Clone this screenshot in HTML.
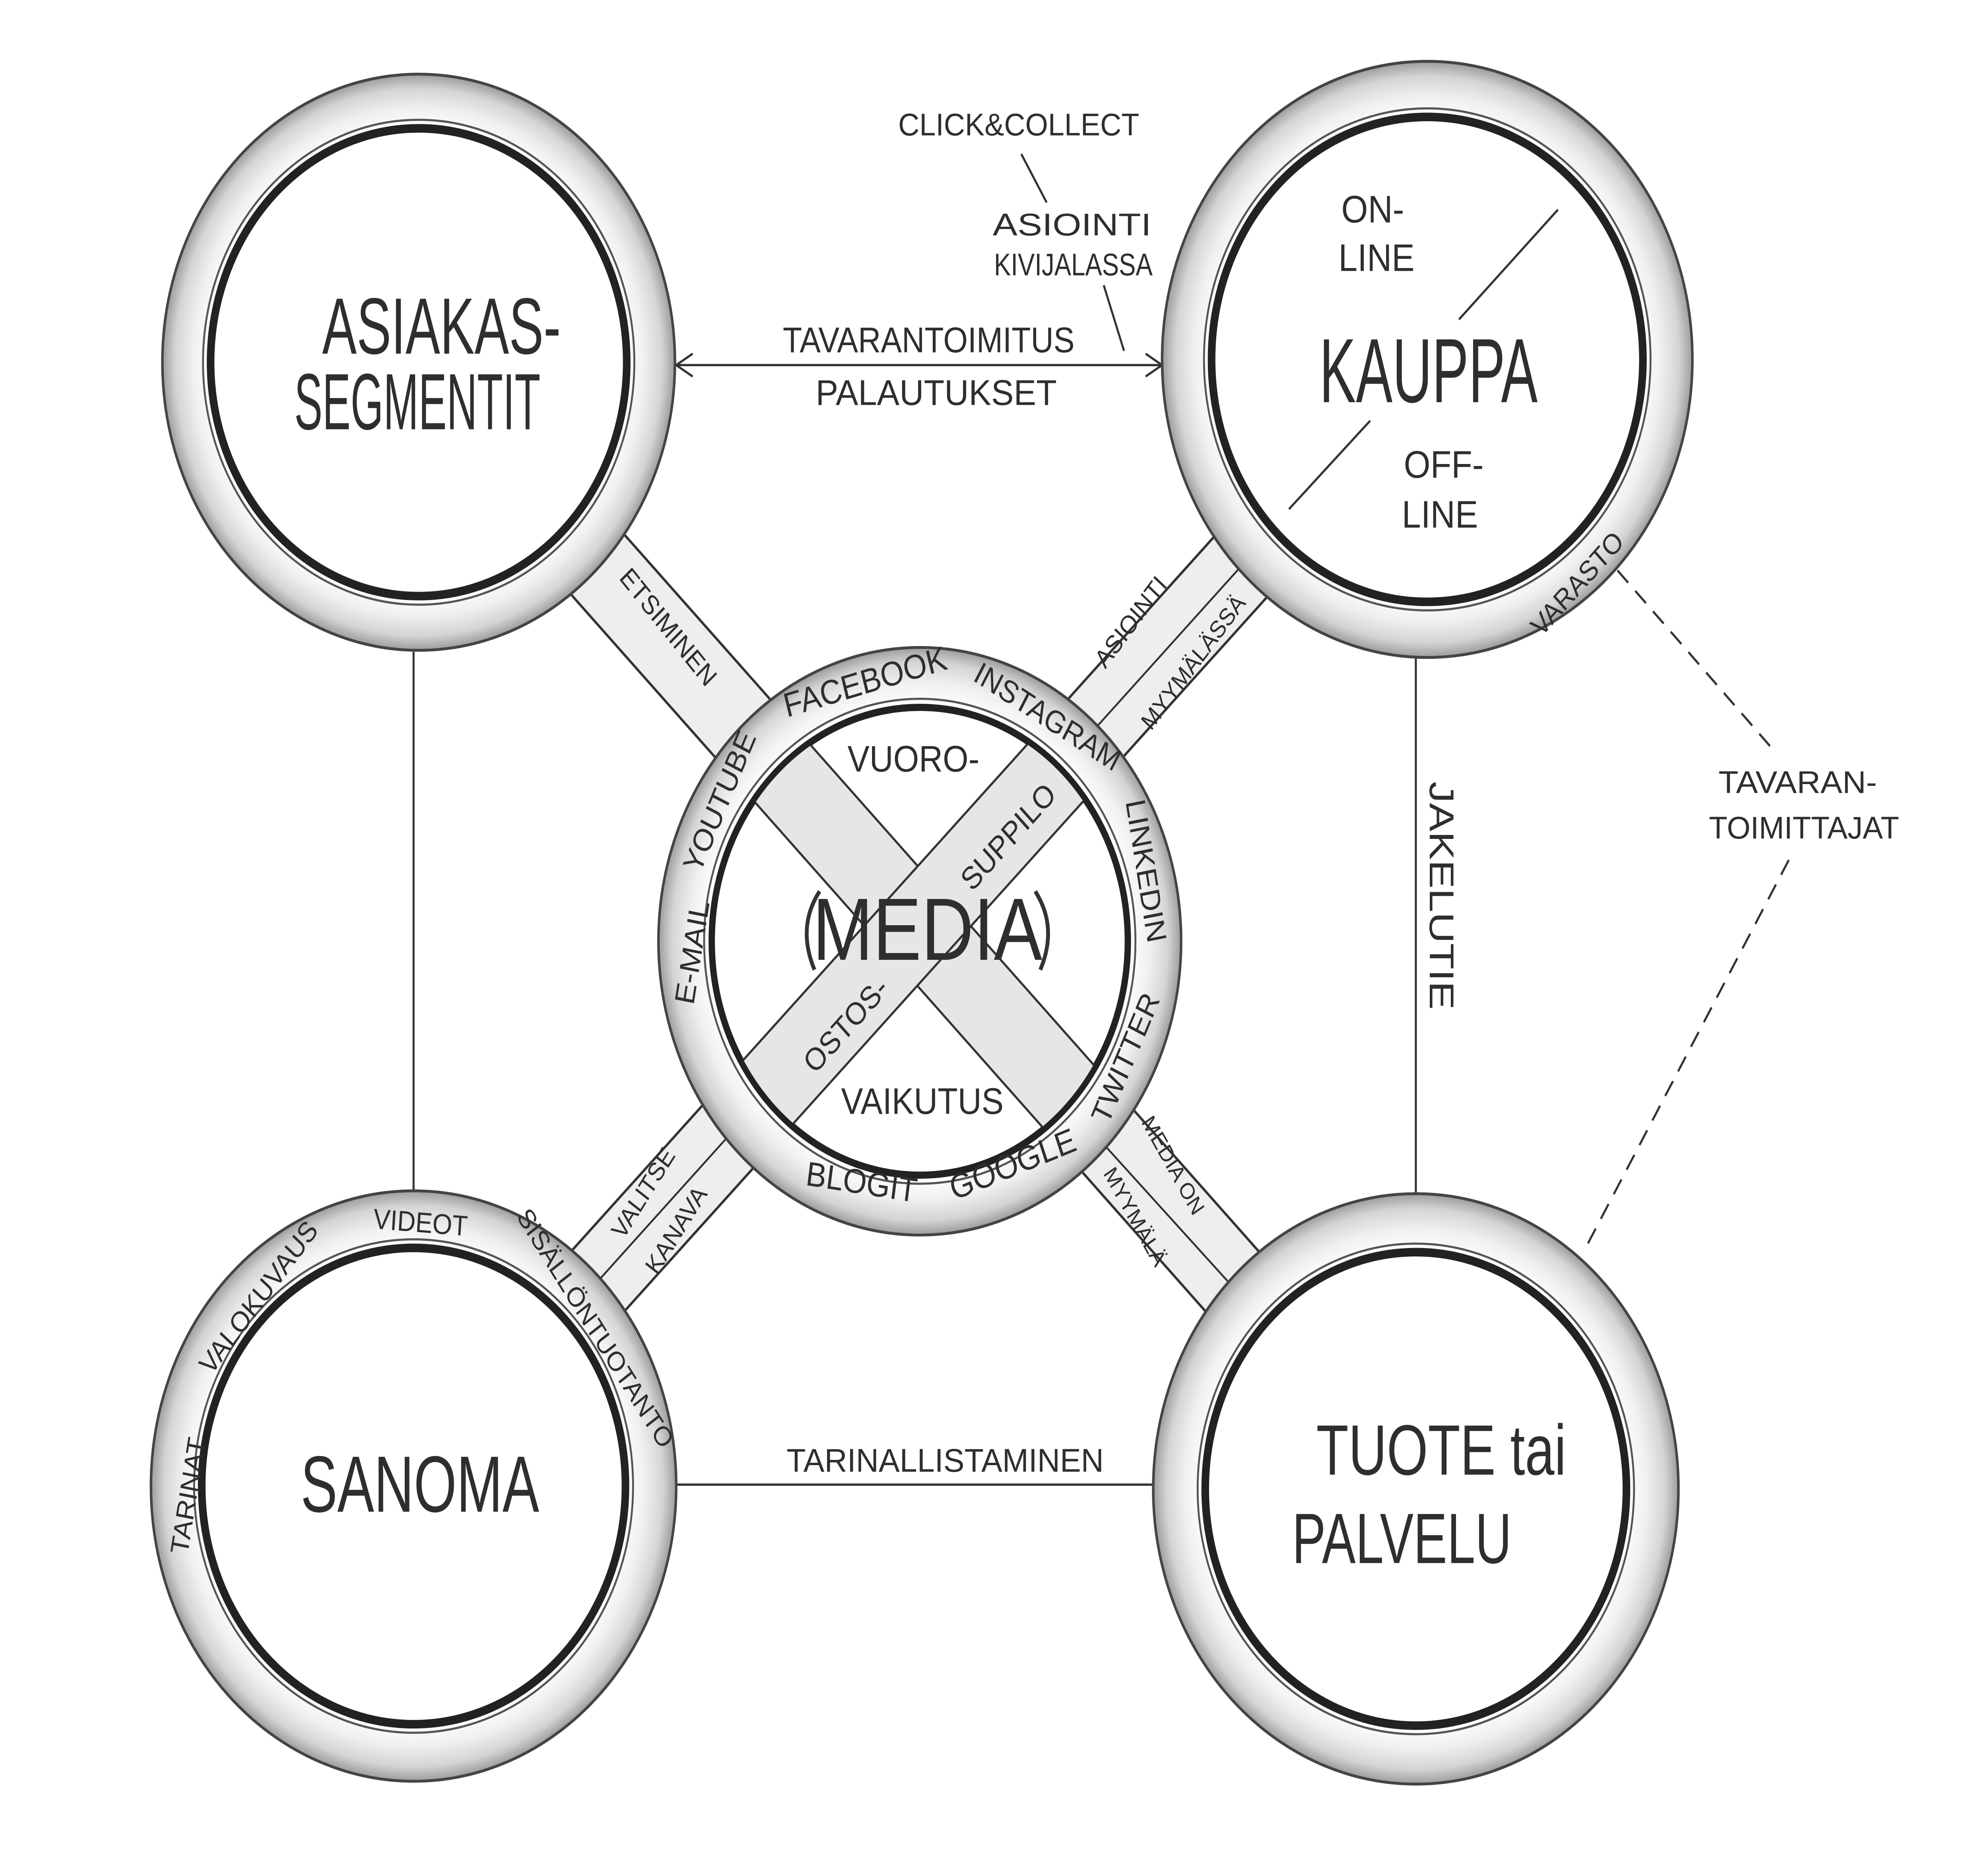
<!DOCTYPE html>
<html><head><meta charset="utf-8">
<style>
html,body{margin:0;padding:0;background:#fff;overflow:hidden;width:100vw;height:100vh;}
svg{display:block;width:100vw;height:100vh;}
text{font-family:"Liberation Sans",sans-serif;fill:#2e2e2e;}
</style></head>
<body>
<svg viewBox="0 0 1567 1300" preserveAspectRatio="none" xmlns="http://www.w3.org/2000/svg">
<defs>
<radialGradient id="rg" cx="50%" cy="50%" r="50%">
<stop offset="0.80" stop-color="#ffffff"/>
<stop offset="0.88" stop-color="#f0f0f0"/>
<stop offset="0.95" stop-color="#d4d4d4"/>
<stop offset="1" stop-color="#9c9c9c"/>
</radialGradient>
</defs>
<rect width="1567" height="1300" fill="#fff"/>

<g stroke="#333" stroke-width="1.6" fill="none">
<line x1="326" y1="457" x2="326" y2="838"/>
<line x1="1116" y1="461" x2="1116" y2="847"/>
<line x1="533" y1="1041" x2="909" y2="1041"/>
<line x1="533" y1="256" x2="915" y2="256"/>
<path d="M546 248 L533 256 L546 264"/>
<path d="M903 248 L916 256 L903 264"/>
<line x1="805" y1="108" x2="825" y2="142"/>
<line x1="870" y1="200" x2="886" y2="246"/>
<line x1="1275" y1="400" x2="1396" y2="524" stroke-dasharray="12 8"/>
<line x1="1410" y1="603" x2="1251" y2="873" stroke-dasharray="12 8"/>
</g>

<!-- bands -->
<g stroke="#333" stroke-width="1.8" fill="#eeeeee">
<polygon points="351,233 1137,1023 1095,1065 309,275"/>
<polygon points="1146,273 347,1063 305,1021 1104,231"/>
</g>
<g stroke="#333" stroke-width="1.4">
<line x1="1125" y1="252" x2="326" y2="1042"/>
<line x1="725" y1="660" x2="1116" y2="1044"/>
</g>

<g>
<circle cx="330" cy="254" r="202" fill="url(#rg)" stroke="#444" stroke-width="2"/>
<circle cx="330" cy="254" r="164" fill="#fff" stroke="#222" stroke-width="6"/>
<circle cx="330" cy="254" r="170" fill="none" stroke="#555" stroke-width="1.5"/>

<circle cx="1125" cy="252" r="209" fill="url(#rg)" stroke="#444" stroke-width="2"/>
<circle cx="1125" cy="252" r="170" fill="#fff" stroke="#222" stroke-width="6"/>
<circle cx="1125" cy="252" r="176" fill="none" stroke="#555" stroke-width="1.5"/>

<circle cx="326" cy="1042" r="207" fill="url(#rg)" stroke="#444" stroke-width="2"/>
<circle cx="326" cy="1042" r="167" fill="#fff" stroke="#222" stroke-width="6"/>
<circle cx="326" cy="1042" r="173" fill="none" stroke="#555" stroke-width="1.5"/>

<circle cx="1116" cy="1044" r="207" fill="url(#rg)" stroke="#444" stroke-width="2"/>
<circle cx="1116" cy="1044" r="166" fill="#fff" stroke="#222" stroke-width="6"/>
<circle cx="1116" cy="1044" r="172" fill="none" stroke="#555" stroke-width="1.5"/>

<circle cx="725" cy="660" r="206" fill="url(#rg)" stroke="#444" stroke-width="2"/>
<circle cx="725" cy="660" r="164" fill="#fff" stroke="#222" stroke-width="5"/>
<circle cx="725" cy="660" r="170" fill="none" stroke="#555" stroke-width="1.5"/>
</g>
<clipPath id="mc"><circle cx="725" cy="660" r="162"/></clipPath>
<g clip-path="url(#mc)" stroke="#333" stroke-width="1.6" fill="#e6e6e6">
<polygon points="351,233 1137,1023 1095,1065 309,275"/>
<polygon points="1146,273 347,1063 305,1021 1104,231"/>
</g>
<g stroke="#333" stroke-width="1.6" fill="none">
<line x1="1228" y1="147" x2="1150" y2="224"/>
<line x1="1080" y1="295" x2="1016" y2="357"/>
</g>

<g text-anchor="middle">
<text x="348" y="248" font-size="56" textLength="188" lengthAdjust="spacingAndGlyphs">ASIAKAS-</text>
<text x="329" y="301" font-size="56" textLength="194" lengthAdjust="spacingAndGlyphs">SEGMENTIT</text>
<text x="1126" y="282" font-size="64" textLength="172" lengthAdjust="spacingAndGlyphs">KAUPPA</text>
<text x="331" y="1060" font-size="56" textLength="188" lengthAdjust="spacingAndGlyphs">SANOMA</text>
<text x="1136" y="1034" font-size="50" textLength="197" lengthAdjust="spacingAndGlyphs">TUOTE tai</text>
<text x="1105" y="1096" font-size="50" textLength="173" lengthAdjust="spacingAndGlyphs">PALVELU</text>
<text x="731" y="673" font-size="62" textLength="181" lengthAdjust="spacingAndGlyphs">MEDIA</text>
</g>
<g stroke="#333" stroke-width="3" fill="none">
<path d="M646 625 Q628 650 642 680"/>
<path d="M816 625 Q834 650 820 680"/>
</g>

<g font-size="22" text-anchor="middle">
<text x="803" y="95" textLength="190" lengthAdjust="spacingAndGlyphs">CLICK&amp;COLLECT</text>
<text x="845" y="165" textLength="125" lengthAdjust="spacingAndGlyphs">ASIOINTI</text>
<text x="846" y="193" textLength="125" lengthAdjust="spacingAndGlyphs">KIVIJALASSA</text>
<text x="732" y="247" font-size="25" textLength="230" lengthAdjust="spacingAndGlyphs">TAVARANTOIMITUS</text>
<text x="738" y="284" font-size="25" textLength="190" lengthAdjust="spacingAndGlyphs">PALAUTUKSET</text>
<text x="1082" y="156" font-size="27">ON-</text>
<text x="1085" y="190" font-size="27">LINE</text>
<text x="1138" y="335" font-size="27">OFF-</text>
<text x="1135" y="370" font-size="27">LINE</text>
<text x="1417" y="556" textLength="125" lengthAdjust="spacingAndGlyphs">TAVARAN-</text>
<text x="1422" y="588" textLength="150" lengthAdjust="spacingAndGlyphs">TOIMITTAJAT</text>
<text x="745" y="1032" font-size="23" textLength="250" lengthAdjust="spacingAndGlyphs">TARINALLISTAMINEN</text>
<text transform="translate(1127,628) rotate(90)" font-size="27" textLength="160" lengthAdjust="spacingAndGlyphs">JAKELUTIE</text>

<text x="720" y="541" font-size="26">VUORO-</text>
<text transform="translate(800,592) rotate(-45)" font-size="22">SUPPILO</text>
<text transform="translate(672,724) rotate(-45)" font-size="22">OSTOS-</text>
<text x="727" y="781" font-size="26">VAIKUTUS</text>

<text transform="translate(684,486) rotate(-15)" font-size="24">FACEBOOK</text>
<text transform="translate(822,509) rotate(30)" font-size="22">INSTAGRAM</text>
<text transform="translate(896,612) rotate(80)" font-size="22">LINKEDIN</text>
<text transform="translate(894,745) rotate(-65)" font-size="22">TWITTER</text>
<text transform="translate(801,824) rotate(-20)" font-size="24">GOOGLE</text>
<text transform="translate(678,837) rotate(8)" font-size="24">BLOGIT</text>
<text transform="translate(553,669) rotate(-80)" font-size="22">E-MAIL</text>
<text transform="translate(574,565) rotate(-65)" font-size="22">YOUTUBE</text>

<text transform="translate(522,444) rotate(48)" font-size="19">ETSIMINEN</text>
<text transform="translate(896,440) rotate(-50)" font-size="18">ASIOINTI</text>
<text transform="translate(945,468) rotate(-50)" font-size="17">MYYMÄLÄSSÄ</text>
<text transform="translate(512,840) rotate(-55)" font-size="18">VALITSE</text>
<text transform="translate(538,866) rotate(-55)" font-size="18">KANAVA</text>
<text transform="translate(920,820) rotate(58)" font-size="16">MEDIA ON</text>
<text transform="translate(890,856) rotate(58)" font-size="16">MYYMÄLÄ</text>

<text transform="translate(1248,414) rotate(-45)" font-size="20">VARASTO</text>
<text transform="translate(155,1050) rotate(-80)" font-size="20">TARINAT</text>
<text transform="translate(209,914) rotate(-50)" font-size="20">VALOKUVAUS</text>
<text transform="translate(331,864) rotate(4)" font-size="20">VIDEOT</text>
<text transform="translate(464,935) rotate(55)" font-size="19" textLength="200" lengthAdjust="spacingAndGlyphs">SISÄLLÖNTUOTANTO</text>
</g>
</svg>
</body></html>
